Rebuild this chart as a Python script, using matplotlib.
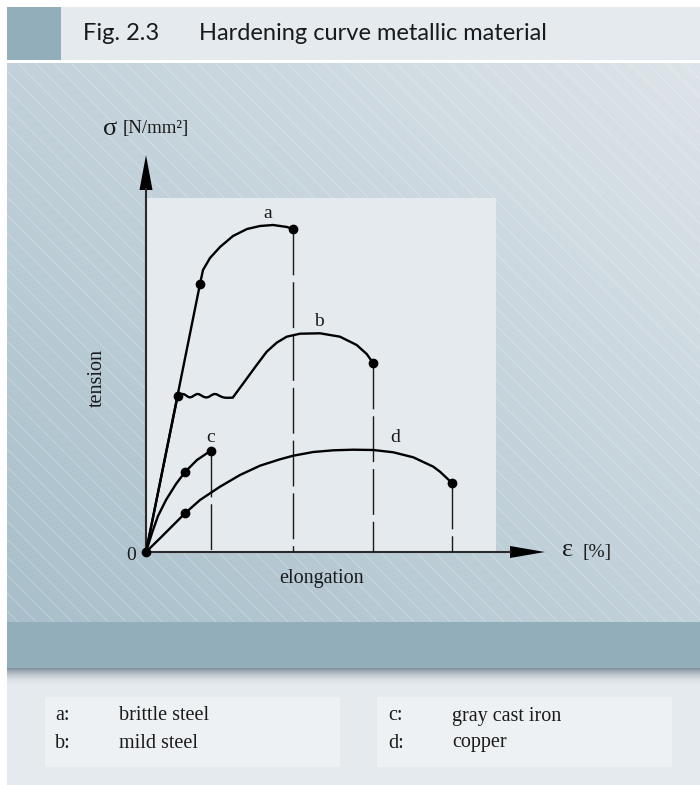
import matplotlib
matplotlib.use('Agg')
import matplotlib.pyplot as plt
from matplotlib.patches import Rectangle, Polygon
import numpy as np

plt.rcParams['font.family'] = ['Liberation Serif', 'DejaVu Serif']
plt.rcParams['lines.scale_dashes'] = False

# elongation eps [%] and tension sigma
a_eps = [0, 5.4, 5.7, 6.4, 7.4, 8.7, 10.1, 11.4, 12.7, 14.1, 14.7]
a_sig = [0, 26.8, 28.2, 29.4, 30.5, 31.6, 32.3, 32.6, 32.7, 32.5, 32.3]

# mild steel: elastic line, yield plateau (wavy), hardening, necking
b_eps = [0, 3.17, 3.4, 3.6, 3.8, 4.0, 4.2, 4.4, 4.6, 4.85, 5.1, 5.3, 5.55, 5.8,
         6.05, 6.3, 6.55, 6.8, 7.05, 7.3, 7.6, 7.9, 8.2, 8.45, 8.67,
         9.73, 11.07, 12.07, 13.07, 14.07, 15.4, 17.4, 19.4, 21.07, 22.07, 22.73]
b_sig = [0, 15.63, 15.72, 15.8, 15.78, 15.66, 15.52, 15.46, 15.52, 15.68, 15.8,
         15.78, 15.64, 15.5, 15.45, 15.52, 15.68, 15.8, 15.78, 15.64, 15.5,
         15.43, 15.42, 15.43, 15.43,
         16.87, 18.7, 20.03, 20.93, 21.53, 21.83, 21.87, 21.53, 20.7, 19.8, 18.87]

c_eps = [0, 0.6, 1.2, 2.0, 3.0, 3.9, 5.1, 6.47]
c_sig = [0, 1.9, 3.6, 5.2, 6.8, 8.0, 9.2, 10.13]

d_eps = [0, 1.4, 2.73, 3.9, 5.4, 7.4, 9.4, 11.4, 13.4, 14.73, 16.73, 18.73,
         20.73, 22.73, 24.73, 26.73, 28.73, 29.4, 30.63]
d_sig = [0, 1.37, 2.7, 3.87, 5.2, 6.53, 7.7, 8.63, 9.27, 9.63, 10.0, 10.17,
         10.23, 10.2, 9.97, 9.47, 8.53, 8.03, 6.87]

# marked points: limit of proportionality / yield point and fracture
dot_eps = [0, 5.4, 14.7, 3.17, 22.73, 3.9, 6.47, 3.9, 30.63]
dot_sig = [0, 26.8, 32.3, 15.63, 18.87, 8.0, 10.13, 3.87, 6.87]

curve_names = ['a', 'b', 'c', 'd']
label_pos = [(12.2, 33.9), (17.3, 23.0), (6.47, 11.5), (24.9, 11.5)]
materials = ['brittle steel', 'mild steel', 'gray cast iron', 'copper']

W, H = 700, 785
fig = plt.figure(figsize=(W / 100, H / 100), dpi=100)

# page decoration drawn in pixel units
bg = fig.add_axes([0, 0, 1, 1])
bg.set_xlim(0, W)
bg.set_ylim(H, 0)
bg.axis('off')

dark = '#93aebb'
light = '#e5eaee'
ink = '#1a1a1a'

bg.add_patch(Rectangle((7, 7), 54, 53, color=dark, lw=0))
bg.add_patch(Rectangle((61, 7), W - 61, 53, color=light, lw=0))
bg.text(83, 34, 'Fig. 2.3', family='Lato', fontsize=17, va='center', color=ink)
bg.text(199, 34, 'Hardening curve metallic material', family='Lato', fontsize=17,
        va='center', color=ink)

# diagonal gradient behind the diagram
top, bot = 63, 621.7
gx, gy = np.meshgrid(np.linspace(0, 1, 60), np.linspace(0, 1, 60))
t = 0.5 * gx + 0.5 * (1 - gy)
c0 = np.array([0.66, 0.75, 0.795])
c1 = np.array([0.865, 0.893, 0.915])
grad = c0 + t[..., None] * (c1 - c0)
bg.imshow(grad, extent=(7, W, bot, top), aspect='auto', interpolation='bilinear', zorder=0)

clip = Rectangle((7, top), W - 7, bot - top, transform=bg.transData)
span = bot - top
for x0 in np.arange(-span, W, 18):
    ln, = bg.plot([x0, x0 + span], [top, bot], color='white', lw=0.6, alpha=0.3, zorder=1)
    ln.set_clip_path(clip)

bg.add_patch(Rectangle((146.7, 198), 349.3, 354, color=light, lw=0, zorder=2))

# lower band, shadow and legend area
bg.add_patch(Rectangle((7, bot), W - 7, 668 - bot, color=dark, lw=0, zorder=2))
bg.add_patch(Rectangle((7, 668), W - 7, H - 668, color=light, lw=0, zorder=2))
sh = np.linspace(0, 1, 40)[:, None]
s0 = np.array([0.50, 0.56, 0.61])
s1 = np.array([0.898, 0.918, 0.933])
shade = s0 + (1 - (1 - sh) ** 2)[..., None] * (s1 - s0)
shade = np.repeat(shade, 2, axis=1)
bg.imshow(shade, extent=(7, W, 686, 668), aspect='auto', interpolation='bilinear', zorder=3)

for bx in (45, 377):
    bg.add_patch(Rectangle((bx, 697), 295, 70, color='#edf1f4', lw=0, zorder=4))
for i, (name, mat) in enumerate(zip(curve_names, materials)):
    bx = 55 if i < 2 else 388
    y = 716 if i % 2 == 0 else 743
    bg.text(bx, y, name + ':', fontsize=14.5, va='center', color=ink, zorder=5)
    bg.text(bx + 64, y, mat, fontsize=14.5, va='center', color=ink, zorder=5)

# the diagram itself
ax = fig.add_axes([146 / W, 233 / H, 400 / W, 400 / H])
ax.set_xlim(0, 40)
ax.set_ylim(0, 40)
ax.axis('off')
ax.patch.set_alpha(0)

axis_col = '#2a2a2a'
ax.plot([0, 0], [0, 36.3], color=axis_col, lw=1.5, clip_on=False)
ax.plot([0, 36.4], [0, 0], color=axis_col, lw=1.5, clip_on=False)
ax.add_patch(Polygon([(-0.65, 36.2), (0.65, 36.2), (0, 39.7)], closed=True,
                     color='black', lw=0, clip_on=False))
ax.add_patch(Polygon([(36.4, -0.6), (36.4, 0.6), (39.9, 0)], closed=True,
                     color='black', lw=0, clip_on=False))

curves = ((a_eps, a_sig), (b_eps, b_sig), (c_eps, c_sig), (d_eps, d_sig))
for xs, ys in curves:
    ax.plot(xs, ys, color='black', lw=1.7, solid_joinstyle='round',
            solid_capstyle='round', clip_on=False, zorder=3)

# fracture elongation marked down to the axis
for xs, ys in curves:
    ax.plot([xs[-1], xs[-1]], [ys[-1], 0], color=ink, lw=1.0,
            linestyle=(0, (33, 5)), clip_on=False, zorder=2)

ax.plot(dot_eps, dot_sig, 'o', color='black', ms=6, clip_on=False, zorder=4)

for name, (lx, ly) in zip(curve_names, label_pos):
    ax.text(lx, ly, name, fontsize=14, ha='center', va='center', color=ink)

ax.text(-1.45, -0.3, '0', fontsize=14, ha='center', va='center', color=ink)
ax.text(-4.9, 17.4, 'tension', fontsize=14.5, rotation=90, ha='center', va='center',
        color=ink)
ax.text(17.6, -2.6, 'elongation', fontsize=14.5, ha='center', va='center', color=ink)
ax.text(41.57, 0.15, 'ε', fontsize=19, ha='left', va='center', color=ink)
ax.text(43.6, 0, '[%]', fontsize=14, ha='left', va='center', color=ink)
ax.text(-4.3, 42.3, 'σ', fontsize=19, ha='left', va='center', color=ink)
ax.text(-2.3, 42.4, '[N/mm²]', fontsize=13.5, ha='left', va='center', color=ink)

fig.savefig('out.png', dpi=100)
